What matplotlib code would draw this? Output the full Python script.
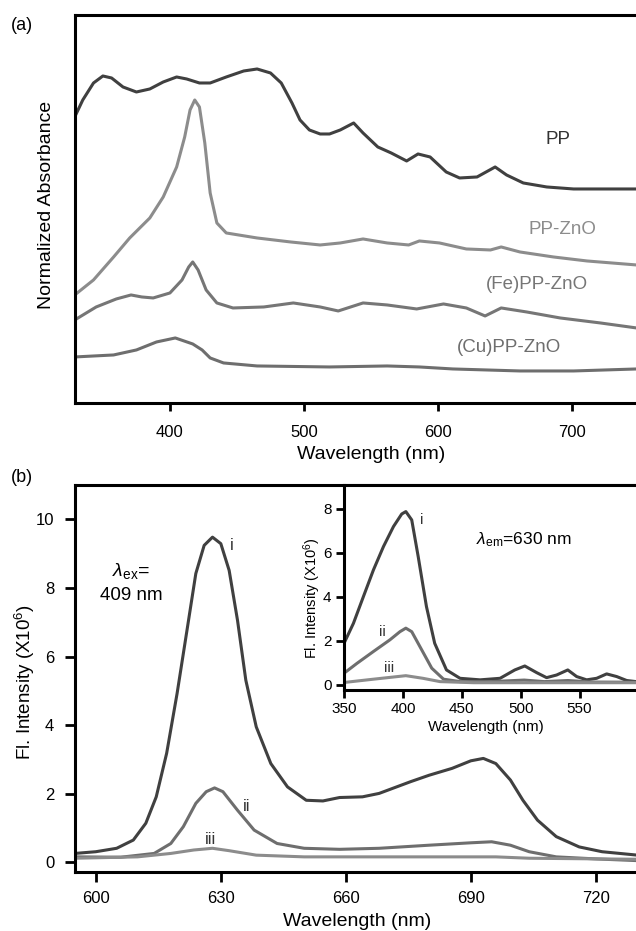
import numpy as np
import matplotlib
matplotlib.use('Agg')
import matplotlib.pyplot as plt

plt.rcParams['font.family'] = ['Liberation Sans', 'DejaVu Sans']
plt.rcParams['mathtext.fontset'] = 'custom'
plt.rcParams['mathtext.rm'] = 'Liberation Sans'
plt.rcParams['mathtext.it'] = 'Liberation Sans:italic'

# (a) absorbance, arbitrary units (curves stacked with offsets)
wl_pp = [329, 335, 343, 350, 356.5, 365, 375, 385, 395, 405, 412.5, 422, 430, 442, 455,
         465, 475, 483, 491, 497, 504, 512, 519, 527, 537, 544, 555, 565, 576.5, 585,
         594, 606, 616, 629, 642.5, 651, 663.5, 681, 701, 748, 770]
abs_pp = [286, 303, 320, 327, 325, 316, 311, 314, 321, 326, 324, 320, 320, 326, 332,
          334, 330, 320, 300, 283, 273, 269, 269, 273, 280, 270, 256, 250, 242, 249,
          246, 231, 225, 226, 236, 228, 220, 216, 214, 214, 214]

wl_zno = [329, 343, 358, 370, 385, 395, 405, 411, 415, 418.5, 422, 426, 430, 435, 442,
          465, 490, 512, 527, 544, 562, 578, 586, 601, 621, 639, 647, 661, 686, 711,
          748, 770]
abs_zno = [108, 123, 146, 165, 185, 206, 236, 266, 293, 303, 296, 260, 210, 180, 170,
           165, 161, 158, 160, 164, 160, 158, 162, 160, 154, 153, 156, 151, 146, 142,
           138, 135]

wl_fe = [329, 345, 360, 371, 379, 387.5, 400, 409, 414, 417, 421, 427, 435, 447, 470,
         492, 512, 525.5, 544, 562, 584, 604, 621, 635, 647, 666, 691, 721, 748, 770]
abs_fe = [83, 96, 104, 108, 106, 105, 110, 123, 136, 141, 133, 113, 100, 95, 96,
          100, 96, 92, 100, 98, 94, 99, 95, 87, 95, 91, 85, 80, 75, 72]

wl_cu = [329, 358, 375, 390, 404, 417, 424, 430, 440, 465, 519, 562, 586, 611, 661,
         701, 748, 770]
abs_cu = [46, 48, 53, 61, 65, 59, 53, 45, 40, 37, 36, 37, 36, 34, 32, 32, 34, 34]

# (b) emission spectra, lambda_ex = 409 nm
wl_i = [595, 600, 605, 609, 612, 614.5, 617, 619.5, 622, 624, 626, 628, 630, 632, 634,
        636, 638.5, 642, 646, 650.5, 654.5, 658.5, 664, 668, 675.5, 680, 685.5, 690,
        693, 696, 699.5, 702.5, 706, 710.5, 716, 721.5, 730]
em_i = [0.26, 0.31, 0.41, 0.65, 1.14, 1.91, 3.18, 4.92, 6.86, 8.42, 9.24, 9.48, 9.29,
        8.51, 7.06, 5.31, 3.95, 2.88, 2.20, 1.81, 1.79, 1.89, 1.91, 2.01, 2.35, 2.54,
        2.74, 2.96, 3.03, 2.88, 2.40, 1.81, 1.23, 0.75, 0.45, 0.31, 0.21]

wl_ii = [595, 606, 614, 618, 621, 624, 626.5, 628.5, 630.5, 634, 638, 643.5, 650, 658.5,
         668, 680, 690, 695, 699.5, 704, 710.5, 720, 730]
em_ii = [0.16, 0.15, 0.26, 0.55, 1.04, 1.72, 2.06, 2.17, 2.06, 1.52, 0.94, 0.55, 0.41,
         0.38, 0.41, 0.50, 0.57, 0.60, 0.50, 0.31, 0.16, 0.10, 0.05]

wl_iii = [595, 610, 618, 623.5, 628, 632, 638.5, 650, 659, 696, 704, 730]
em_iii = [0.12, 0.16, 0.26, 0.36, 0.41, 0.34, 0.21, 0.16, 0.16, 0.16, 0.12, 0.09]

# inset: excitation spectra, lambda_em = 630 nm
wl_ex_i = [350, 358, 366.5, 375, 383.5, 392, 399, 402.5, 407.5, 413, 420, 427, 437,
           448.5, 465.5, 482.5, 495, 503.5, 513.5, 522, 530.5, 540, 547.5, 556, 564.5,
           573, 581.5, 590, 598, 610]
ex_i = [1.89, 2.80, 4.02, 5.23, 6.29, 7.20, 7.77, 7.88, 7.50, 5.83, 3.56, 1.89, 0.68,
        0.30, 0.23, 0.30, 0.68, 0.86, 0.56, 0.33, 0.45, 0.68, 0.38, 0.23, 0.30, 0.50,
        0.38, 0.20, 0.15, 0.12]

wl_ex_ii = [350, 361, 375, 389, 397.5, 402.5, 407.5, 416, 424.5, 434.5, 448.5, 475,
            503, 520, 540, 560, 610]
ex_ii = [0.53, 0.98, 1.52, 2.05, 2.42, 2.58, 2.42, 1.59, 0.76, 0.26, 0.15, 0.15,
         0.22, 0.15, 0.20, 0.13, 0.12]

wl_ex_iii = [350, 375, 402.5, 417, 431.5, 460, 610]
ex_iii = [0.11, 0.26, 0.42, 0.30, 0.15, 0.10, 0.10]

c_dark = '#404040'
c_mid = '#6e6e6e'
c_fe = '#767676'
c_light = '#8c8c8c'
lw = 2.2

fig = plt.figure(figsize=(6.36, 9.31), dpi=100)

# ---------- panel (a) ----------
ax1 = fig.add_axes([0.1179, 0.5675, 0.9299, 0.4164])
ax1.plot(wl_pp, abs_pp, color=c_dark, lw=lw, solid_joinstyle='round')
ax1.plot(wl_zno, abs_zno, color=c_light, lw=lw, solid_joinstyle='round')
ax1.plot(wl_fe, abs_fe, color=c_fe, lw=lw, solid_joinstyle='round')
ax1.plot(wl_cu, abs_cu, color=c_mid, lw=lw, solid_joinstyle='round')
ax1.set_xlim(329.2, 770.2)
ax1.set_ylim(0.3, 388)
ax1.set_yticks([])
ax1.set_xticks([400, 500, 600, 700])
ax1.tick_params(axis='x', direction='out', length=6, width=2, pad=10, labelsize=12)
for s in ax1.spines.values():
    s.set_linewidth(2.2)
ax1.set_xlabel('Wavelength (nm)', fontsize=14)
ax1.xaxis.set_label_coords(0.5, -0.135)
ax1.xaxis.label.set_va('center')
ax1.set_ylabel('Normalized Absorbance', fontsize=14)
ax1.yaxis.set_label_coords(-0.048, 0.51)
ax1.yaxis.label.set_va('center')
ax1.text(689.3, 263, 'PP', fontsize=13.5, color='#333333', ha='center', va='center')
ax1.text(693, 173, 'PP-ZnO', fontsize=13.5, color=c_light, ha='center', va='center')
ax1.text(674, 118, '(Fe)PP-ZnO', fontsize=13.5, color=c_fe, ha='center', va='center')
ax1.text(652.6, 55.7, '(Cu)PP-ZnO', fontsize=13.5, color=c_mid, ha='center', va='center')
fig.text(22 / 636, 1 - 25 / 931, '(a)', fontsize=13, ha='center', va='center')

# ---------- panel (b) ----------
ax2 = fig.add_axes([0.1179, 0.06305, 0.8884, 0.4160])
ax2.plot(wl_i, em_i, color=c_dark, lw=lw, solid_joinstyle='round')
ax2.plot(wl_ii, em_ii, color=c_mid, lw=lw, solid_joinstyle='round')
ax2.plot(wl_iii, em_iii, color=c_light, lw=lw, solid_joinstyle='round')
ax2.set_xlim(595, 730.6)
ax2.set_ylim(-0.29, 11)
ax2.set_xticks([600, 630, 660, 690, 720])
ax2.set_yticks([0, 2, 4, 6, 8, 10])
ax2.tick_params(direction='out', length=7, width=2, labelsize=12)
ax2.tick_params(axis='x', pad=6.5)
ax2.tick_params(axis='y', pad=8)
for s in ax2.spines.values():
    s.set_linewidth(2.2)
ax2.set_xlabel('Wavelength (nm)', fontsize=14)
ax2.xaxis.set_label_coords(0.5, -0.128)
ax2.xaxis.label.set_va('center')
ax2.set_ylabel(r'Fl. Intensity (X10$^{\mathregular{6}}$)', fontsize=13.5)
ax2.yaxis.set_label_coords(-0.0885, 0.49)
ax2.yaxis.label.set_va('center')
ax2.text(632.6, 9.24, 'i', fontsize=12, color='#333333', ha='center', va='center')
ax2.text(636.2, 1.64, 'ii', fontsize=12, color='#333333', ha='center', va='center')
ax2.text(627.5, 0.67, 'iii', fontsize=12, color='#333333', ha='center', va='center')
ax2.text(608.4, 8.5, r'$\lambda_{\mathregular{ex}}$=', fontsize=14, ha='center', va='center')
ax2.text(608.4, 7.78, '409 nm', fontsize=13.5, ha='center', va='center')
fig.text(22 / 636, 1 - 478 / 931, '(b)', fontsize=13, ha='center', va='center')

# ---------- inset ----------
ax3 = fig.add_axes([0.5409, 0.2589, 0.4811, 0.2202])
ax3.set_facecolor('white')
ax3.plot(wl_ex_i, ex_i, color=c_dark, lw=lw, solid_joinstyle='round')
ax3.plot(wl_ex_ii, ex_ii, color=c_mid, lw=lw, solid_joinstyle='round')
ax3.plot(wl_ex_iii, ex_iii, color=c_light, lw=lw, solid_joinstyle='round')
ax3.set_xlim(350, 609.8)
ax3.set_ylim(-0.23, 9.09)
ax3.set_xticks([350, 400, 450, 500, 550])
ax3.set_yticks([0, 2, 4, 6, 8])
ax3.tick_params(direction='out', length=6, width=2, labelsize=11, pad=3)
for s in ax3.spines.values():
    s.set_linewidth(2.2)
ax3.set_xlabel('Wavelength (nm)', fontsize=11)
ax3.xaxis.set_label_coords(0.465, -0.18)
ax3.xaxis.label.set_va('center')
ax3.set_ylabel(r'Fl. Intensity (X10$^{\mathregular{6}}$)', fontsize=10.5)
ax3.yaxis.set_label_coords(-0.105, 0.45)
ax3.yaxis.label.set_va('center')
ax3.text(415.6, 7.5, 'i', fontsize=11, color='#333333', ha='center', va='center')
ax3.text(382.5, 2.42, 'ii', fontsize=11, color='#333333', ha='center', va='center')
ax3.text(388, 0.76, 'iii', fontsize=11, color='#333333', ha='center', va='center')
ax3.text(462.3, 6.59, r'$\lambda_{\mathregular{em}}$=630 nm', fontsize=12.5, ha='left', va='center')

fig.savefig('out.png', dpi=100)
